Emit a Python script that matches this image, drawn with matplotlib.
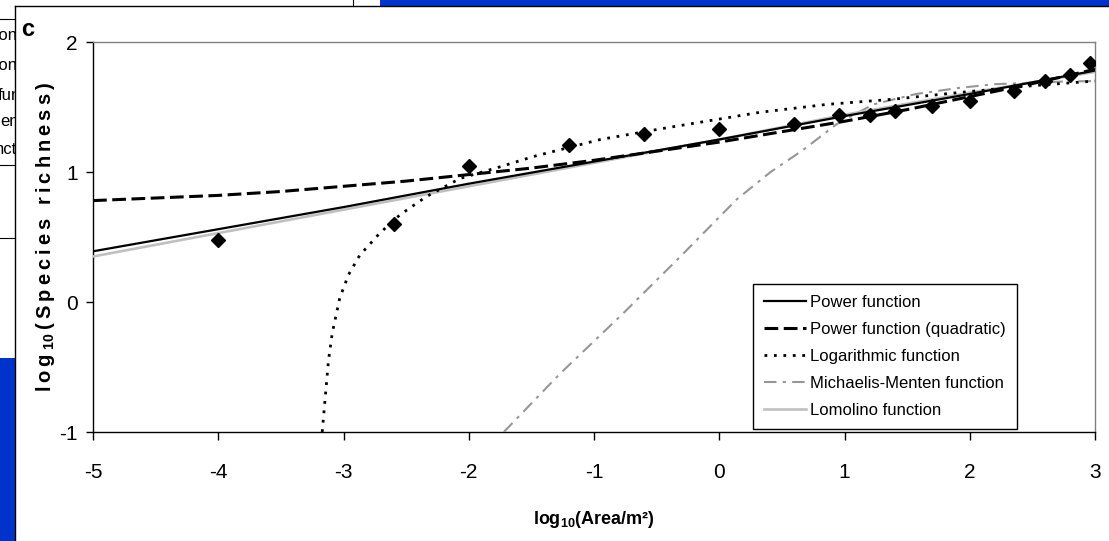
import matplotlib
matplotlib.use('Agg')
import matplotlib.pyplot as plt
from matplotlib import font_manager
from matplotlib.patches import Rectangle
from matplotlib.transforms import Bbox, TransformedBbox

names = {f.name for f in font_manager.fontManager.ttflist}
fam = 'Liberation Sans Narrow' if 'Liberation Sans Narrow' in names else 'Liberation Sans'
plt.rcParams['font.family'] = [fam, 'DejaVu Sans']
plt.rcParams['mathtext.fontset'] = 'custom'
plt.rcParams['mathtext.rm'] = fam + ':bold'
plt.rcParams['mathtext.default'] = 'rm'
plt.rcParams['axes.unicode_minus'] = False

# observed points
obs_x = [-4, -2.6, -2, -1.2, -0.6, 0, 0.6, 0.96, 1.2, 1.4, 1.7, 2.0, 2.35, 2.6, 2.8, 2.96]
obs_y = [0.48, 0.60, 1.05, 1.21, 1.29, 1.33, 1.37, 1.44, 1.44, 1.47, 1.51, 1.55, 1.62, 1.70, 1.75, 1.84]

# fitted curves
pow_x = [-5, -4, -3, -2, -1, 0, 1, 2, 3]
pow_y = [0.39, 0.56, 0.73, 0.91, 1.08, 1.25, 1.43, 1.60, 1.78]

quad_x = [-5, -4.5, -4, -3.5, -3, -2.5, -2, -1.5, -1, -0.5, 0, 0.5, 1, 1.5, 2, 2.5, 3]
quad_y = [0.78, 0.80, 0.82, 0.85, 0.89, 0.93, 0.98, 1.03, 1.09, 1.16, 1.23, 1.31, 1.39, 1.48, 1.58, 1.68, 1.79]

log_x = [-3.17, -3.12, -3.09, -3.03, -2.96, -2.87, -2.71, -2.55, -2.34, -2.07, -1.75, -1.48, -0.95, -0.42, 0.33, 0.86, 1.39, 1.9, 2.45, 3.0]
log_y = [-1.0, -0.45, -0.24, 0.03, 0.21, 0.36, 0.53, 0.67, 0.81, 0.95, 1.04, 1.12, 1.25, 1.34, 1.46, 1.52, 1.56, 1.61, 1.66, 1.70]

mm_x = [-1.72, -1.27, -0.77, -0.31, 0.14, 0.41, 0.67, 0.94, 1.23, 1.57, 1.90, 2.19, 2.72, 3.0]
mm_y = [-1.0, -0.55, -0.09, 0.35, 0.79, 1.00, 1.17, 1.37, 1.52, 1.60, 1.645, 1.675, 1.695, 1.70]

lom_x = [-5, -4, -3, -2, -1, 0, 1, 2, 3]
lom_y = [0.35, 0.53, 0.71, 0.89, 1.07, 1.25, 1.44, 1.61, 1.77]

# cut-off legend of the neighbouring panel
other_labels = ['tion', 'tion', 'fun', 'en', 'nct']

W, H = 1109, 541
fig = plt.figure(figsize=(W/100, H/100), dpi=100)
ax = fig.add_axes([93/W, 1-432/H, (1095-93)/W, (432-42)/H])

ax.plot(pow_x, pow_y, color='black', lw=1.6, label='Power function', zorder=4)
ax.plot(quad_x, quad_y, color='black', lw=2.2, ls=(0, (4.5, 1.8)), label='Power function (quadratic)', zorder=4)
ax.plot(log_x, log_y, color='black', lw=2.0, ls=(0, (1.0, 2.4)), label='Logarithmic function', zorder=4)
ax.plot(mm_x, mm_y, color='#969696', lw=1.5, ls=(0, (6, 3, 1.5, 3)), label='Michaelis-Menten function', zorder=3)
ax.plot(lom_x, lom_y, color='#c0c0c0', lw=1.9, label='Lomolino function', zorder=3)
ax.plot(obs_x, obs_y, ls='none', marker='D', ms=7.5, color='black', zorder=5)

ax.set_xlim(-5, 3)
ax.set_ylim(-1, 2)
ax.set_xticks(range(-5, 4))
ax.set_yticks([-1, 0, 1, 2])
ax.tick_params(axis='x', direction='out', length=6, width=1, pad=16, labelsize=15)
ax.tick_params(axis='y', direction='out', length=5, width=1, pad=6, labelsize=15)
for s in ['top', 'right']:
    ax.spines[s].set_color('#808080')
for s in ax.spines.values():
    s.set_linewidth(1)

hs = '\u2009'
ax.set_xlabel(r'log$_{10}$(Area/m²)', fontsize=13, fontweight='bold')
ax.xaxis.set_label_coords(0.5, (432-509)/390)
ylab = hs.join('log') + hs + r'$_{10}$' + hs + hs.join('(Species richness)')
ax.set_ylabel(ylab, fontsize=14.5, fontweight='bold')
ax.yaxis.set_label_coords((57-93)/1002, 0.5)

leg = ax.legend(loc='lower left', bbox_to_anchor=((753-93)/1002, 3/390), borderaxespad=0,
                fontsize=12, frameon=True, fancybox=False, edgecolor='black', framealpha=1,
                handlelength=2.5, handletextpad=0.3, labelspacing=0.72, borderpad=0.65)
leg.get_frame().set_linewidth(1)

# panel letter
fig.text(21/W, 1-29/H, 'c', fontsize=17, fontweight='bold', va='center', ha='left')

# surrounding page decoration
def fx(px):
    return px/W
def fy(py):
    return 1-py/H

fig.patches.append(Rectangle((fx(380), fy(6)), fx(W)-fx(380), 6/H, transform=fig.transFigure,
                             facecolor='#0033cc', edgecolor='none'))
fig.patches.append(Rectangle((0, 0), fx(15), fy(358), transform=fig.transFigure,
                             facecolor='#0033cc', edgecolor='none'))
fig.add_artist(plt.Line2D([fx(15), fx(15)], [0, fy(6)], transform=fig.transFigure, color='black', lw=1))
fig.add_artist(plt.Line2D([fx(15), 1], [fy(6), fy(6)], transform=fig.transFigure, color='black', lw=1))
fig.add_artist(plt.Line2D([fx(353), fx(353)], [fy(6), 1], transform=fig.transFigure, color='black', lw=0.8))
fig.add_artist(plt.Line2D([0, fx(15)], [fy(19), fy(19)], transform=fig.transFigure, color='black', lw=0.8))
fig.add_artist(plt.Line2D([0, fx(15)], [fy(165), fy(165)], transform=fig.transFigure, color='black', lw=0.8))
fig.add_artist(plt.Line2D([0, fx(15)], [fy(238), fy(238)], transform=fig.transFigure, color='black', lw=0.8))

clip = TransformedBbox(Bbox([[0, 0], [fx(15), 1]]), fig.transFigure)
other_y = [35, 66, 95, 122, 150]
other_r = [18, 18, 21, 19, 17]
for lab, yy, rr in zip(other_labels, other_y, other_r):
    t = fig.text(fx(rr), fy(yy), lab, fontsize=12, ha='right', va='center')
    t.set_clip_box(clip)
    t.set_clip_on(True)

plt.savefig('out.png', dpi=100)
